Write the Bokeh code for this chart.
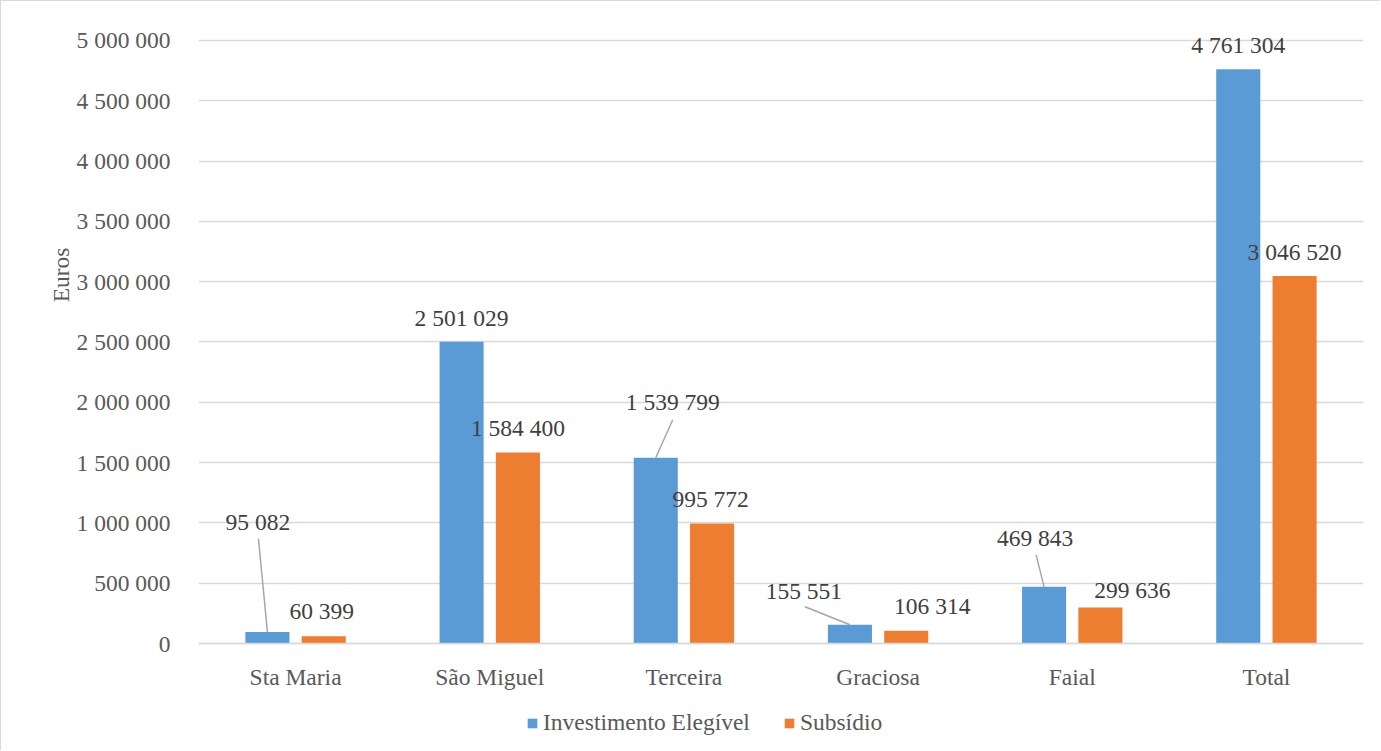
from bokeh.plotting import figure
from bokeh.models import (Range1d, FactorRange, FixedTicker, CustomJSTickFormatter,
                          ColumnDataSource, Legend, LegendItem, Title)
from bokeh.transform import dodge
from bokeh.core.properties import value
from bokeh.embed import file_html
from bokeh.resources import INLINE

# ---------------- data ----------------
islands = ["Sta Maria", "São Miguel", "Terceira", "Graciosa", "Faial", "Total"]
investimento = [95082, 2501029, 1539799, 155551, 469843, 4761304]
subsidio = [60399, 1584400, 995772, 106314, 299636, 3046520]
series_names = ["Investimento Elegível", "Subsídio"]
y_ticks = [0, 500000, 1000000, 1500000, 2000000, 2500000, 3000000,
           3500000, 4000000, 4500000, 5000000]
y_title = "Euros"

# ---------------- layout / style ----------------
FONT = "Liberation Serif"
FS = "23.5px"
BLUE, ORANGE = "#5B9BD5", "#ED7D31"
GRID = "#d9d9d9"
W, H = 1380, 750
ML, MR, MT, MB = 197, 18, 31, 1
FRAME_W = W - ML - MR
FRAME_H = H - MT - MB
Y_START, Y_END = -887000, 5066000   # room below zero for the category labels and legend
BAR_OFF, BAR_W = 0.145, 0.227
PX_X = FRAME_W / len(islands)
PX_Y = FRAME_H / (Y_END - Y_START)

# data-label pixel offsets (relative to the top centre of each bar)
inv_dx = [-9.5, 0, 17, -46, -9, 0]
inv_dy = [-110, -23.5, -56, -34, -49, -24]
sub_dx = [-2, 0, -1.5, 26, 32, 0]
sub_dy = [-25, -24, -24.5, -25, -17.5, -24]
# leader lines (index of bar, start offset in px)
leader_idx = [0, 2, 3, 4]
leader_dx = [-9, 17, -45, -8]
leader_dy = [-93.5, -38, -18, -32]


def fmt(v):
    return f"{v:,}".replace(",", " ")


p = figure(x_range=FactorRange(*islands), y_range=Range1d(Y_START, Y_END),
           width=W, height=H, output_backend="svg", toolbar_location=None,
           min_border_left=ML, min_border_right=MR, min_border_top=MT,
           min_border_bottom=MB)
p.styles = {"border-left": f"1px solid {GRID}", "border-top": f"1px solid {GRID}"}
p.outline_line_color = None
p.background_fill_color = "white"
p.border_fill_color = "white"

src = ColumnDataSource(dict(
    x=islands, inv=investimento, sub=subsidio,
    inv_t=[fmt(v) for v in investimento], sub_t=[fmt(v) for v in subsidio],
    inv_dx=inv_dx, inv_dy=inv_dy, sub_dx=sub_dx, sub_dy=sub_dy,
))

r1 = p.vbar(x=dodge("x", -BAR_OFF, range=p.x_range), top="inv", bottom=0, width=BAR_W,
            source=src, fill_color=BLUE, line_color=None)
r2 = p.vbar(x=dodge("x", BAR_OFF, range=p.x_range), top="sub", bottom=0, width=BAR_W,
            source=src, fill_color=ORANGE, line_color=None)

# leader lines
lx0, ly0, lx1, ly1 = [], [], [], []
for k, i in enumerate(leader_idx):
    cx = i + 0.5 - BAR_OFF
    lx1.append(cx)
    ly1.append(investimento[i])
    lx0.append(cx + leader_dx[k] / PX_X)
    ly0.append(investimento[i] - leader_dy[k] / PX_Y)
p.segment(x0=lx0, y0=ly0, x1=lx1, y1=ly1, line_color="#a6a6a6", line_width=1.5)

# data labels
p.text(x=dodge("x", -BAR_OFF, range=p.x_range), y="inv", text="inv_t", source=src,
       x_offset="inv_dx", y_offset="inv_dy", text_align="center", text_baseline="middle",
       text_font=value(FONT), text_font_size=FS, text_color="#404040")
p.text(x=dodge("x", BAR_OFF, range=p.x_range), y="sub", text="sub_t", source=src,
       x_offset="sub_dx", y_offset="sub_dy", text_align="center", text_baseline="middle",
       text_font=value(FONT), text_font_size=FS, text_color="#404040")

# axes
p.xgrid.grid_line_color = None
p.ygrid.ticker = FixedTicker(ticks=y_ticks)
p.ygrid.grid_line_color = GRID
p.ygrid.grid_line_width = 1.3

p.yaxis.ticker = FixedTicker(ticks=y_ticks)
p.yaxis.formatter = CustomJSTickFormatter(
    code="return Math.round(tick).toString().replace(/\\B(?=(\\d{3})+(?!\\d))/g, ' ');")
p.yaxis.axis_line_color = None
p.yaxis.major_tick_line_color = None
p.yaxis.minor_tick_line_color = None
p.yaxis.major_label_standoff = 22
p.yaxis.major_label_text_font = FONT
p.yaxis.major_label_text_font_size = FS
p.yaxis.major_label_text_color = "#595959"

p.xaxis.fixed_location = 0
p.xaxis.axis_line_color = GRID
p.xaxis.axis_line_width = 1.5
p.xaxis.major_tick_line_color = None
p.xaxis.minor_tick_line_color = None
p.xaxis.major_label_standoff = 14
p.xaxis.major_label_text_font = FONT
p.xaxis.major_label_text_font_size = FS
p.xaxis.major_label_text_color = "#595959"

p.add_layout(Title(text=y_title, align="right", offset=215, standoff=0,
                   text_font=FONT, text_font_size=FS, text_font_style="normal",
                   text_color="#595959"), "left")

legend = Legend(items=[LegendItem(label=series_names[0], renderers=[r1]),
                       LegendItem(label=series_names[1], renderers=[r2])],
                location=(328, 14), orientation="horizontal", padding=0, margin=0,
                spacing=33, glyph_width=12, glyph_height=12, label_standoff=5,
                label_text_font=FONT, label_text_font_size=FS,
                label_text_color="#595959", border_line_color=None,
                background_fill_alpha=0)
p.add_layout(legend)

open("out.html", "w").write(file_html(p, INLINE))
